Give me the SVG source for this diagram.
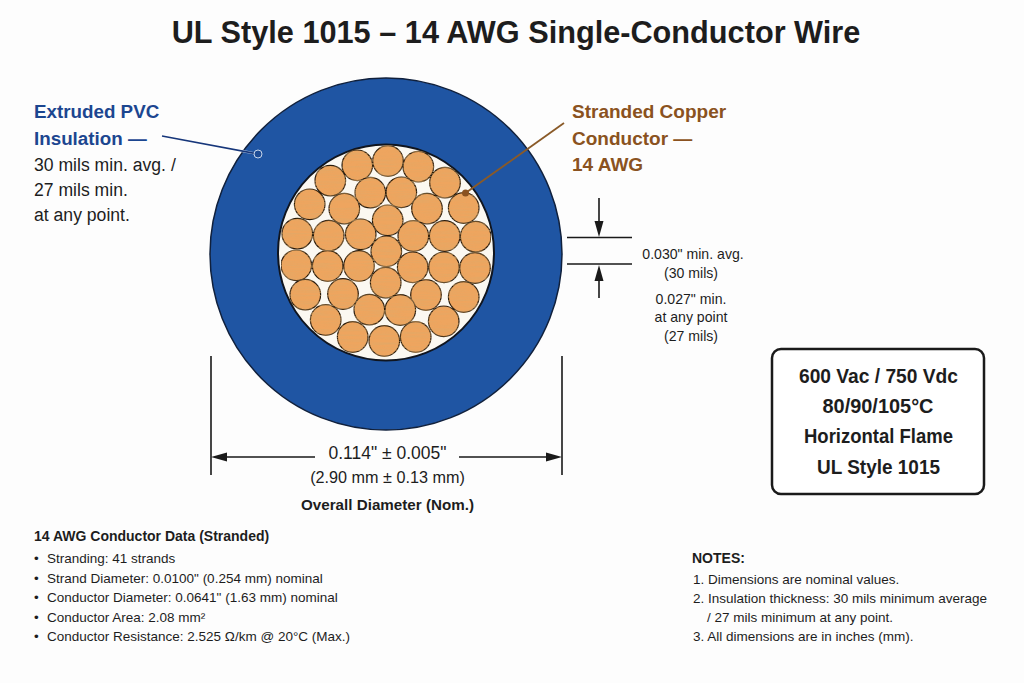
<svg xmlns="http://www.w3.org/2000/svg" width="1024" height="683" viewBox="0 0 1024 683">
<defs>
<filter id="grain" x="0" y="0" width="1" height="1">
<feTurbulence type="fractalNoise" baseFrequency="0.03 0.6" numOctaves="2" seed="4" result="n"/>
<feColorMatrix in="n" type="matrix" values="0 0 0 0 0.7  0 0 0 0 0.4  0 0 0 0 0.15  0 0 0 1.1 -0.42" result="g"/>
<feComposite in="g" in2="SourceAlpha" operator="in" result="c"/>
<feMerge><feMergeNode in="SourceGraphic"/><feMergeNode in="c"/></feMerge>
</filter>
</defs>
<style>
text{font-family:"Liberation Sans",Arial,sans-serif;fill:#1d1d1d}
.title{font-size:30.700px;font-weight:700;text-anchor:middle}
.blue{font-size:18.800px;font-weight:700;fill:#1c4690}
.brown{font-size:19px;font-weight:700;fill:#8a5220}
.body{font-size:17.600px}
.dim{font-size:14.100px;text-anchor:middle}
.dimb{font-size:17.500px;text-anchor:middle}
.box{font-size:20px;font-weight:700;text-anchor:middle}
.small{font-size:13.500px}
.smallb{font-size:14px;font-weight:700}
.s{fill:#eea55e;stroke:#2a1c10;stroke-width:1.2}
.ln{stroke:#1a1a1a;stroke-width:1.6;fill:none}
.ar{fill:#1a1a1a}
</style>
<rect width="1024" height="683" fill="#fdfdfd"/>
<text class="title" x="516" y="43">UL Style 1015 – 14 AWG Single-Conductor Wire</text>
<g id="cable">
<circle cx="386" cy="254" r="176" fill="#1f55a3" stroke="#10203c" stroke-width="1.5"/>
<circle cx="386" cy="252.500" r="108" fill="#fbf8f1" stroke="#10151f" stroke-width="2"/>
<g id="strands" filter="url(#grain)">
<circle class="s" cx="357.300" cy="165.300" r="15.300"/><circle class="s" cx="388" cy="161" r="15.300"/><circle class="s" cx="418.300" cy="166.700" r="15.300"/><circle class="s" cx="445" cy="182.700" r="15.300"/><circle class="s" cx="330.300" cy="180.700" r="15.300"/><circle class="s" cx="370.300" cy="192.700" r="15.300"/><circle class="s" cx="401.300" cy="192.300" r="15.300"/><circle class="s" cx="309.700" cy="204.300" r="15.300"/><circle class="s" cx="344.300" cy="208.700" r="15.300"/><circle class="s" cx="427" cy="208.700" r="15.300"/><circle class="s" cx="463.700" cy="208" r="15.300"/><circle class="s" cx="387.700" cy="220.300" r="15.300"/><circle class="s" cx="297.300" cy="233.700" r="15.300"/><circle class="s" cx="328.700" cy="235.700" r="15.300"/><circle class="s" cx="360.700" cy="234.300" r="15.300"/><circle class="s" cx="413.300" cy="236" r="15.300"/><circle class="s" cx="444.700" cy="236" r="15.300"/><circle class="s" cx="475.700" cy="236.700" r="15.300"/><circle class="s" cx="386.300" cy="251.300" r="15.300"/><circle class="s" cx="296.300" cy="265.300" r="15.300"/><circle class="s" cx="327.700" cy="266" r="15.300"/><circle class="s" cx="359" cy="266" r="15.300"/><circle class="s" cx="412.700" cy="267.300" r="15.300"/><circle class="s" cx="444" cy="267.300" r="15.300"/><circle class="s" cx="475" cy="268" r="15.300"/><circle class="s" cx="385.700" cy="282.700" r="15.300"/><circle class="s" cx="305.300" cy="294.700" r="15.300"/><circle class="s" cx="343" cy="294" r="15.300"/><circle class="s" cx="426" cy="295" r="15.300"/><circle class="s" cx="463.700" cy="297" r="15.300"/><circle class="s" cx="369.300" cy="309.700" r="15.300"/><circle class="s" cx="400.300" cy="310" r="15.300"/><circle class="s" cx="325.700" cy="320" r="15.300"/><circle class="s" cx="443.700" cy="321.300" r="15.300"/><circle class="s" cx="352.700" cy="337" r="15.300"/><circle class="s" cx="384.300" cy="341" r="15.300"/><circle class="s" cx="415.700" cy="337" r="15.300"/>
</g>
</g>
<g id="connectors">
<line x1="242" y1="151" x2="258" y2="154" stroke="#b9cbe6" stroke-width="2.400"/>
<line x1="162" y1="136" x2="258" y2="154" stroke="#16367a" stroke-width="1.500"/>
<circle cx="258" cy="154" r="4" fill="#1c4b95" stroke="#c7d5ea" stroke-width="1"/>
<line x1="564" y1="123" x2="465.500" y2="193" stroke="#8a5a28" stroke-width="1.800"/>
<circle cx="465.500" cy="193" r="3.500" fill="#8a5220"/>
<path class="ln" d="M567 237.500H632M567 264H632M599 198V228M599 274V298M211 356V475M562 356V475M222 457H315M459 457H552"/>
<path class="ar" d="M599 237L594.500 221H603.500ZM599 265L594.500 281H603.500ZM211 457L227 452.500V461.500ZM562 457L546 452.500V461.500Z"/>
</g>
<g id="insulation-label">
<text class="blue" x="34" y="118">Extruded PVC</text>
<text class="blue" x="34" y="145">Insulation —</text>
<text class="body" x="34" y="171">30 mils min. avg. /</text>
<text class="body" x="34" y="196">27 mils min.</text>
<text class="body" x="34" y="221">at any point.</text>
</g>
<g id="conductor-label">
<text class="brown" x="572" y="118">Stranded Copper</text>
<text class="brown" x="572" y="145">Conductor —</text>
<text class="brown" x="572" y="171">14 AWG</text>
</g>
<g id="thickness-label">
<text class="dim" x="693" y="259">0.030" min. avg.</text>
<text class="dim" x="691" y="278">(30 mils)</text>
<text class="dim" x="691" y="304">0.027" min.</text>
<text class="dim" x="691" y="322">at any point</text>
<text class="dim" x="691" y="341">(27 mils)</text>
</g>
<g id="diameter-label">
<text class="dimb" x="387.500" y="459">0.114" ± 0.005"</text>
<text class="dim" x="387.500" y="483" style="font-size:16.200px">(2.90 mm ± 0.13 mm)</text>
<text class="dim" x="387.500" y="510" style="font-size:15.200px;font-weight:700">Overall Diameter (Nom.)</text>
</g>
<g id="rating-box">
<rect x="772" y="349" width="212" height="145" rx="9" fill="#fff" stroke="#1a1a1a" stroke-width="2.500"/>
<text class="box" x="878.500" y="383" textLength="159" lengthAdjust="spacingAndGlyphs">600 Vac / 750 Vdc</text>
<text class="box" x="878" y="413" textLength="111" lengthAdjust="spacingAndGlyphs">80/90/105°C</text>
<text class="box" x="878.500" y="443" textLength="149" lengthAdjust="spacingAndGlyphs">Horizontal Flame</text>
<text class="box" x="878.500" y="474" textLength="123" lengthAdjust="spacingAndGlyphs">UL Style 1015</text>
</g>
<g id="conductor-data">
<text class="smallb" x="34" y="541">14 AWG Conductor Data (Stranded)</text>
<text class="small" x="34" y="562.500">•</text><text class="small" x="47" y="562.500">Stranding: 41 strands</text>
<text class="small" x="34" y="582.500">•</text><text class="small" x="47" y="582.500">Strand Diameter: 0.0100" (0.254 mm) nominal</text>
<text class="small" x="34" y="602">•</text><text class="small" x="47" y="602">Conductor Diameter: 0.0641" (1.63 mm) nominal</text>
<text class="small" x="34" y="622">•</text><text class="small" x="47" y="622">Conductor Area: 2.08 mm²</text>
<text class="small" x="34" y="641">•</text><text class="small" x="47" y="641">Conductor Resistance: 2.525 Ω/km @ 20°C (Max.)</text>
</g>
<g id="notes">
<text class="smallb" x="692" y="563">NOTES:</text>
<text class="small" x="693" y="584">1. Dimensions are nominal values.</text>
<text class="small" x="693" y="603">2. Insulation thickness: 30 mils minimum average</text>
<text class="small" x="707" y="621.500">/ 27 mils minimum at any point.</text>
<text class="small" x="693" y="641">3. All dimensions are in inches (mm).</text>
</g>
</svg>
